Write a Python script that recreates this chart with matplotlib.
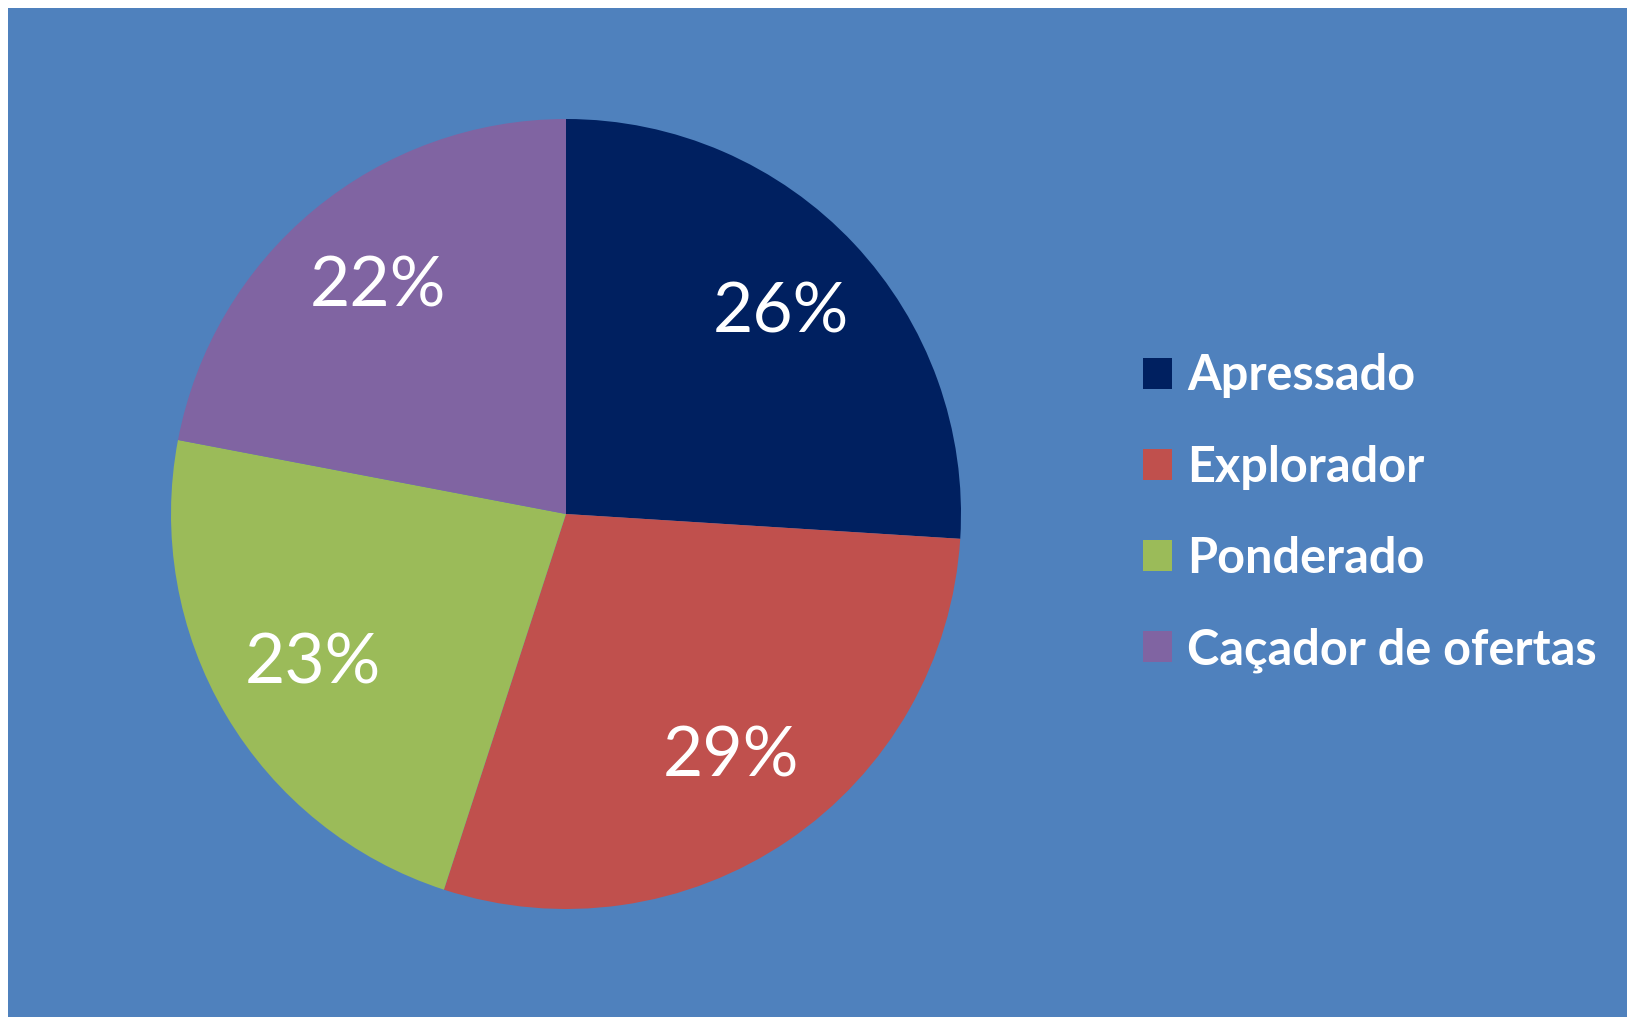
import matplotlib.pyplot as plt
from matplotlib.patches import Rectangle

categorias = ['Apressado', 'Explorador', 'Ponderado', 'Caçador de ofertas']
valores = [26, 29, 23, 22]
cores = ['#002060', '#C0504D', '#9BBB59', '#8064A2']
fundo = '#4F81BD'

plt.rcParams['font.family'] = ['Lato', 'DejaVu Sans']

W, H = 1627, 1017
fig = plt.figure(figsize=(W / 100, H / 100), dpi=100, facecolor=fundo)

# borda branca em cima e à esquerda
fig.patches.append(Rectangle((0, 1 - 8 / H), 1, 8 / H, transform=fig.transFigure,
                             facecolor='white', edgecolor='none', zorder=0))
fig.patches.append(Rectangle((0, 0), 8 / W, 1, transform=fig.transFigure,
                             facecolor='white', edgecolor='none', zorder=0))

cx, cy, r = 566, H - 514, 395
ax = fig.add_axes([(cx - r) / W, (cy - r) / H, 2 * r / W, 2 * r / H])
ax.set_facecolor('none')

wedges, textos, pcts = ax.pie(valores, colors=cores, startangle=90, counterclock=False,
                              autopct='%1.0f%%', pctdistance=0.745, radius=1,
                              textprops={'color': 'white', 'fontsize': 50})
ax.set_xlim(-1, 1)
ax.set_ylim(-1, 1)
ax.axis('off')

fig.legend(wedges, categorias, loc='center left', bbox_to_anchor=(1143 / W, 504 / H),
           frameon=False, borderpad=0, borderaxespad=0,
           handlelength=0.6, handleheight=0.6, handletextpad=0.31, labelspacing=0.95,
           prop={'family': 'Lato', 'weight': 'bold', 'size': 35}, labelcolor='white')

fig.savefig('out.png', dpi=100, facecolor=fundo)
